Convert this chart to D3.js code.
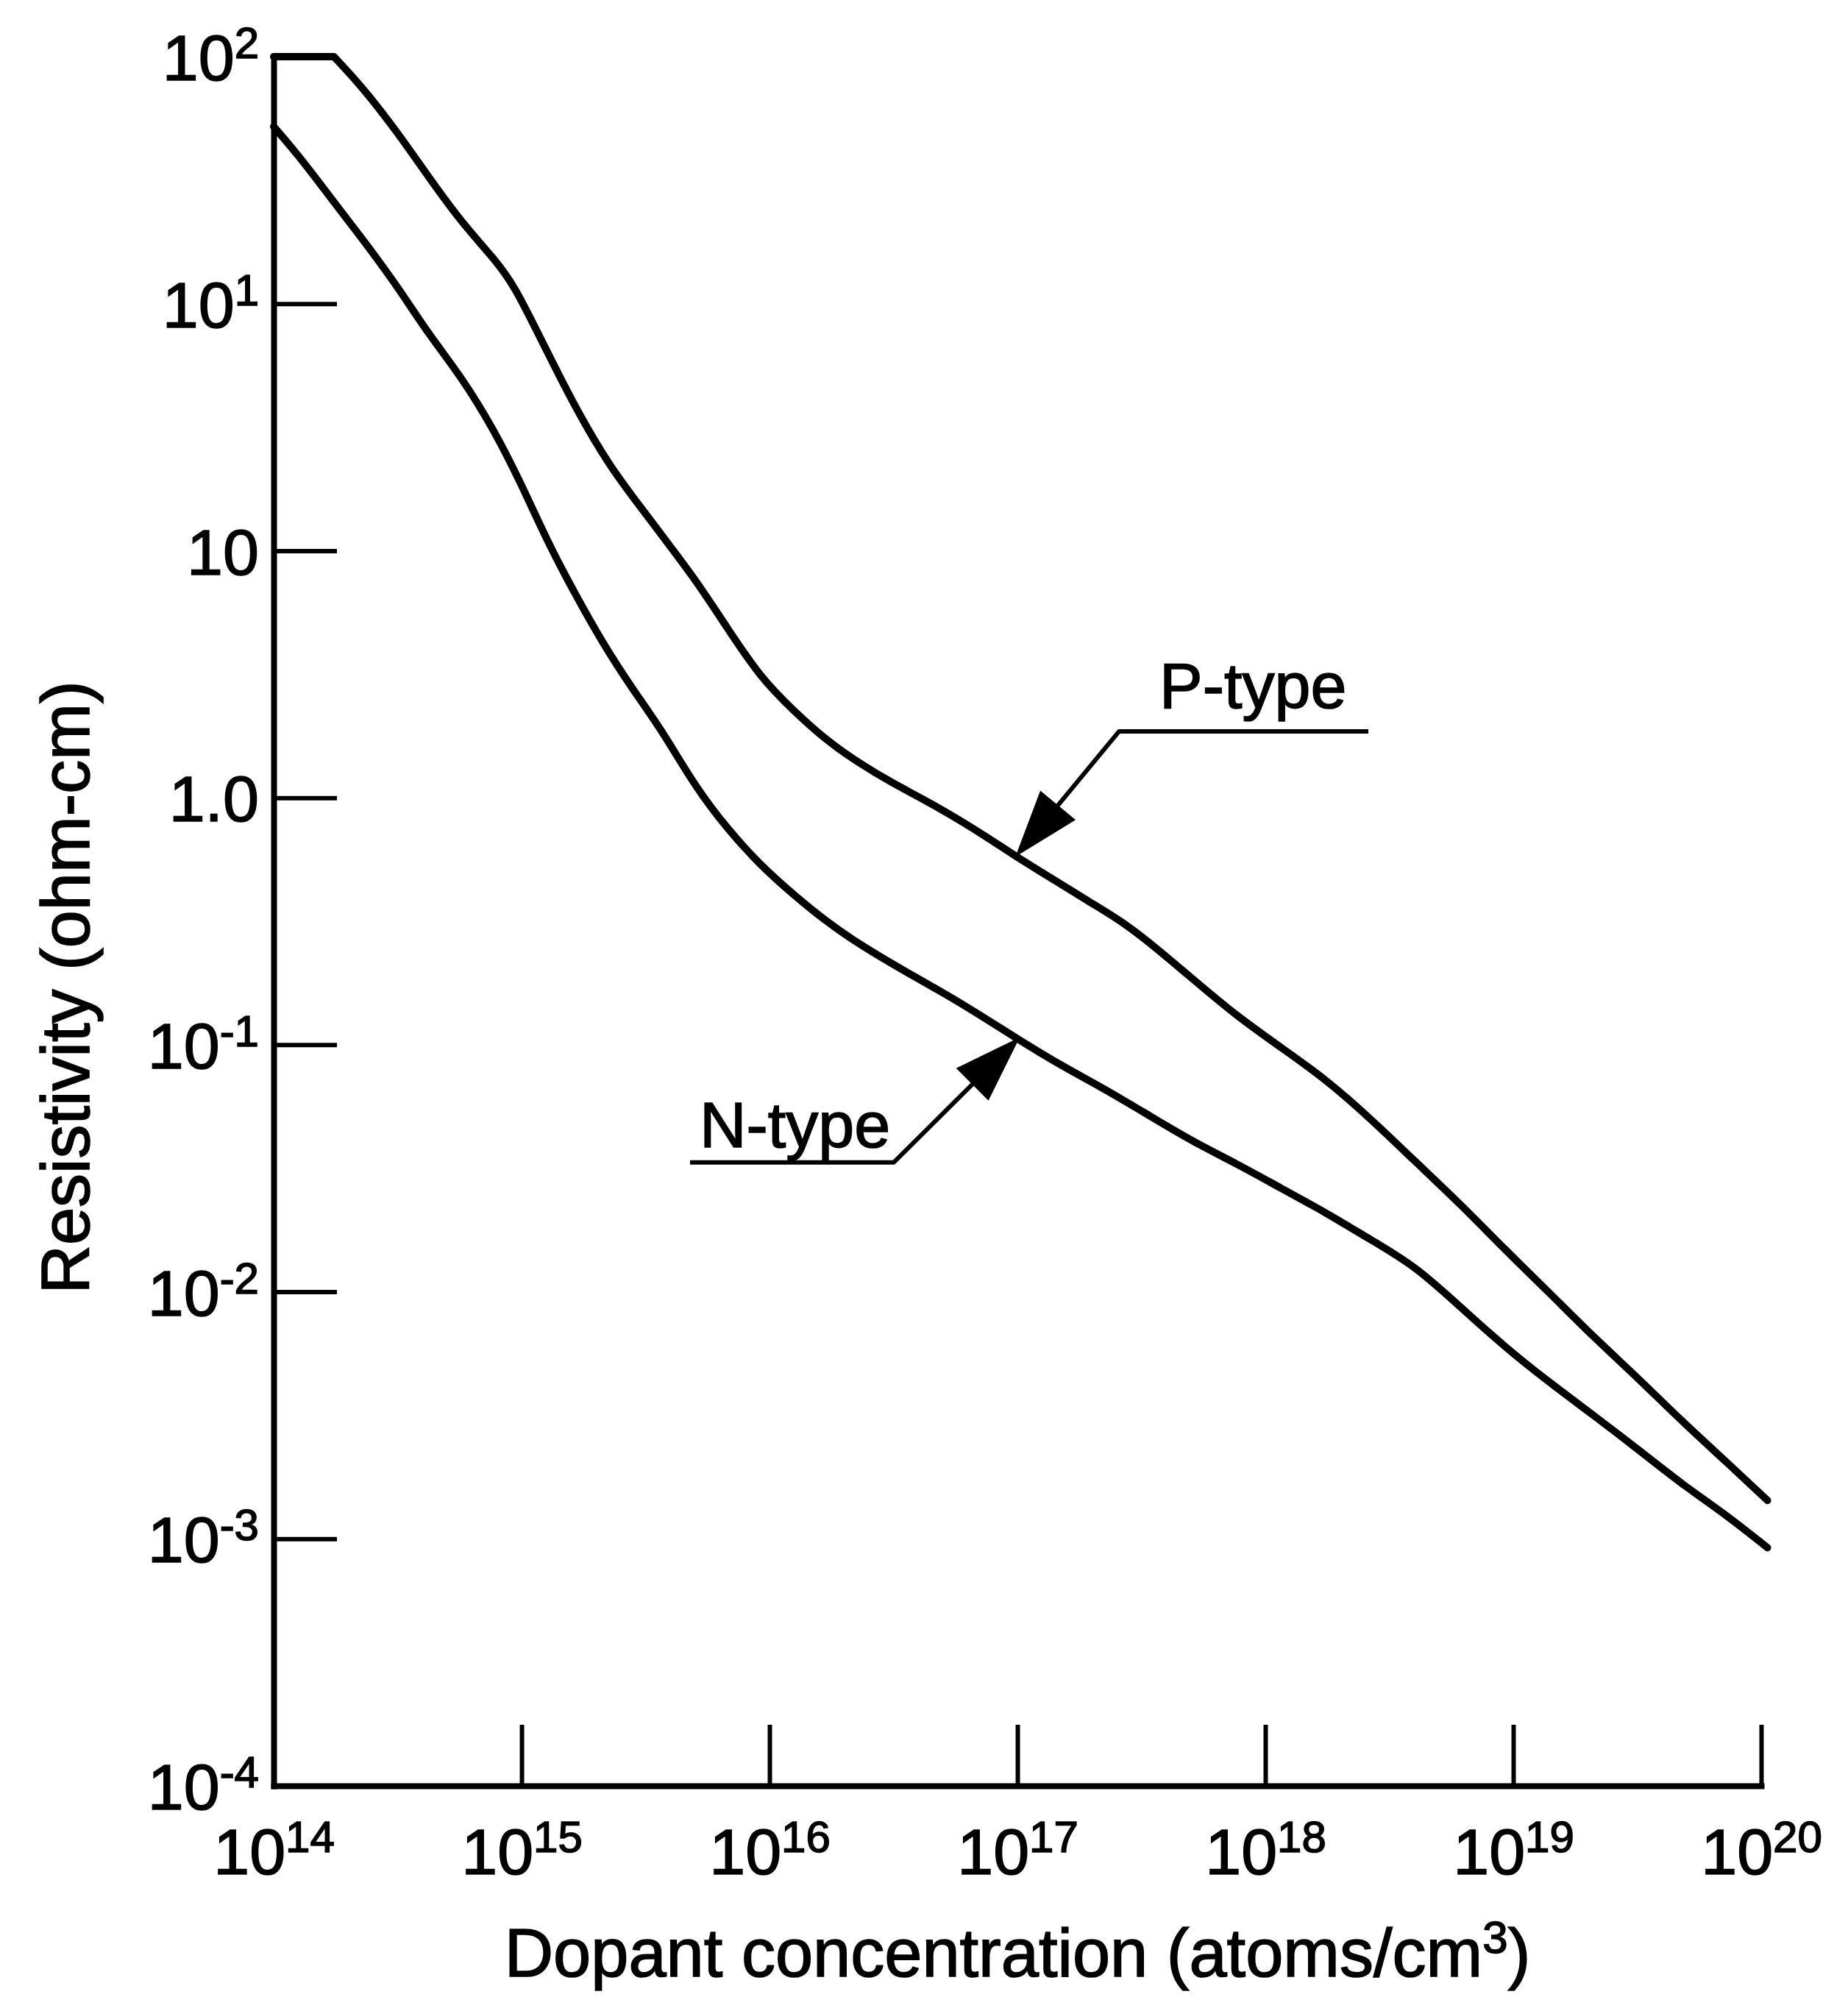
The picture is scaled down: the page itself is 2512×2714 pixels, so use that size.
<!DOCTYPE html>
<html>
<head>
<meta charset="utf-8">
<script src="https://cdn.jsdelivr.net/npm/d3@7"></script>
<style>
body { margin: 0; background: #fff; }
text { font-family: "Liberation Sans", Arial, Helvetica, sans-serif; fill: #000; stroke: #000; stroke-width: 1.6px; }
</style>
</head>
<body>
<svg id="chart"></svg>
<script>
// axis ticks and their printed labels ("^" marks the superscript part)
var xTicks = [1e14, 1e15, 1e16, 1e17, 1e18, 1e19, 1e20]
var xTickLabels = ["10^14", "10^15", "10^16", "10^17", "10^18", "10^19", "10^20"]
var yTicks = [1e-4, 1e-3, 1e-2, 1e-1, 1, 10, 100, 1000]
var yTickLabels = ["10^-4", "10^-3", "10^-2", "10^-1", "1.0", "10", "10^1", "10^2"]

// P-type curve (atoms/cm3, ohm-cm); first two points are the flat top
var pConc = [1e14, 1.75e14, 2.30e14, 3.13e14, 4.23e14, 5.75e14, 7.76e14, 9.33e14, 1.23e15, 1.67e15,
    2.27e15, 3.07e15, 3.92e15, 5.01e15, 6.78e15, 9.20e15, 1.25e16, 1.69e16, 2.30e16, 3.11e16,
    4.23e16, 5.75e16, 7.76e16, 9.66e16, 1.44e17, 1.94e17, 2.64e17, 3.59e17, 5.08e17, 7.71e17,
    1.16e18, 1.76e18, 2.67e18, 4.03e18, 6.11e18, 9.20e18, 1.40e19, 2.12e19, 3.19e19, 4.84e19,
    7.31e19, 1.06e20]
var pRes = [1000, 1000, 745, 500, 324, 212, 152, 119, 67.9, 36.9,
    21.9, 14.7, 10.6, 7.67, 4.84, 3.06, 2.25, 1.71, 1.38, 1.15,
    0.98, 0.82, 0.68, 0.586, 0.458, 0.380, 0.316, 0.249, 0.185, 0.130,
    0.0973, 0.0723, 0.050, 0.0336, 0.0227, 0.0149, 0.0099, 0.00652, 0.00447, 0.00296,
    0.00203, 0.00143]

// N-type curve
var nConc = [1e14, 1.25e14, 1.69e14, 2.30e14, 3.13e14, 4.23e14, 5.75e14, 7.76e14, 9.93e14, 1.27e15,
    1.63e15, 2.13e15, 2.81e15, 3.69e15, 5.01e15, 6.78e15, 9.20e15, 1.25e16, 1.69e16, 2.30e16,
    3.52e16, 5.60e16, 9.79e16, 1.48e17, 2.22e17, 3.37e17, 5.08e17, 7.71e17, 1.16e18, 1.76e18,
    2.67e18, 4.03e18, 6.11e18, 9.20e18, 1.40e19, 2.12e19, 3.19e19, 4.84e19, 7.31e19, 1.06e20]
var nRes = [521, 402, 270, 181, 119, 74.8, 50.2, 30.7, 18.8, 10.9,
    6.78, 4.20, 2.74, 1.87, 1.11, 0.745, 0.532, 0.405, 0.316, 0.255,
    0.198, 0.153, 0.107, 0.0830, 0.0667, 0.0520, 0.0406, 0.0329, 0.0262, 0.0209,
    0.0162, 0.0127, 0.00869, 0.00600, 0.00429, 0.00315, 0.00230, 0.00165, 0.00124, 0.00092]

// callouts: where the arrows touch the curves
var noteLabels = ["P-type", "N-type"]
var noteConc = [1e17, 1e17]
var noteRes = [0.59, 0.105]

function setSup(textSel, label, rise, supSize) {
    var parts = label.split("^")
    textSel.text(null)
    textSel.append("tspan").text(parts[0])
    if (parts.length > 1) {
        textSel.append("tspan")
            .attr("dy", -rise)
            .style("font-size", supSize + "px")
            .text(parts[1])
    }
}

function drawPointer(g, tip, elbow, end) {
    var dx = elbow[0] - tip[0], dy = elbow[1] - tip[1]
    var len = Math.sqrt(dx * dx + dy * dy)
    var ux = dx / len, uy = dy / len
    var base = [tip[0] + ux * 85, tip[1] + uy * 85]
    var px = -uy * 29, py = ux * 29
    g.append("path")
        .attr("d", d3.line()([end, elbow, base]))
        .attr("fill", "none")
        .attr("stroke", "#000")
        .attr("stroke-width", 6)
        .attr("stroke-linejoin", "round")
    g.append("path")
        .attr("d", d3.line()([tip, [base[0] + px, base[1] + py], [base[0] - px, base[1] - py]]) + "Z")
        .attr("fill", "#000")
        .attr("stroke", "#000")
        .attr("stroke-width", 3)
}

function getChart() {
    var width = 2512, height = 2714
    var margin = { top: 77, right: 118, bottom: 287, left: 372 }

    var svg = d3.select("#chart")
        .attr("width", width)
        .attr("height", height)
        .attr("viewBox", [0, 0, width, height])

    svg.append("rect")
        .attr("width", width)
        .attr("height", height)
        .attr("fill", "#fff")

    var xScale = d3.scaleLog()
        .domain([1e14, 1e20])
        .range([margin.left, width - margin.right])
    var yScale = d3.scaleLog()
        .domain([1e-4, 1e3])
        .range([height - margin.bottom, margin.top])

    // y axis, ticks pointing inward
    var yAxis = svg.append("g")
        .attr("transform", "translate(" + margin.left + ",0)")
        .call(d3.axisLeft(yScale).tickValues(yTicks).tickSize(-86).tickSizeOuter(0).tickPadding(20))
    yAxis.attr("font-size", null).attr("font-family", null)
    yAxis.select(".domain").attr("stroke-width", 8).attr("stroke-linecap", "square")
    yAxis.selectAll(".tick line").attr("stroke-width", 6)
    yAxis.selectAll(".tick text")
        .style("font-size", "88px")
        .attr("dy", "0.36em")
        .each(function (d, i) { setSup(d3.select(this), yTickLabels[i], 30, 60) })

    // x axis
    var xAxis = svg.append("g")
        .attr("transform", "translate(0," + (height - margin.bottom) + ")")
        .call(d3.axisBottom(xScale).tickValues(xTicks).tickSize(-83).tickSizeOuter(0).tickPadding(58))
    xAxis.attr("font-size", null).attr("font-family", null)
    xAxis.select(".domain").attr("stroke-width", 8).attr("stroke-linecap", "square")
    xAxis.selectAll(".tick line").attr("stroke-width", 6)
    xAxis.selectAll(".tick text")
        .style("font-size", "88px")
        .each(function (d, i) { setSup(d3.select(this), xTickLabels[i], 30, 60) })

    // curves: smoothed through the read-off points, P-type keeps its sharp corner at the top
    var smooth = d3.line()
        .x(d => xScale(d[0]))
        .y(d => yScale(d[1]))
        .curve(d3.curveBasis)
    var straight = d3.line()
        .x(d => xScale(d[0]))
        .y(d => yScale(d[1]))
    var pPoints = d3.zip(pConc, pRes)
    var nPoints = d3.zip(nConc, nRes)
    var paths = [
        straight(pPoints.slice(0, 2)) + smooth(pPoints.slice(1)),
        smooth(nPoints)
    ]
    svg.selectAll(".curve")
        .data(paths)
        .enter()
        .append("path")
        .attr("class", "curve")
        .attr("d", d => d)
        .attr("fill", "none")
        .attr("stroke", "#000")
        .attr("stroke-width", 10)
        .attr("stroke-linejoin", "round")
        .attr("stroke-linecap", "round")

    // callouts
    var notes = svg.append("g")
    var layout = [
        { elbow: [138, -167], end: [477, -167], text: [193, -199] },
        { elbow: [-168, 167], end: [-445, 167], text: [-432, 146] }
    ]
    noteLabels.forEach((label, i) => {
        var tip = [xScale(noteConc[i]), yScale(noteRes[i])]
        var l = layout[i]
        drawPointer(notes, tip,
            [tip[0] + l.elbow[0], tip[1] + l.elbow[1]],
            [tip[0] + l.end[0], tip[1] + l.end[1]])
        notes.append("text")
            .attr("x", tip[0] + l.text[0])
            .attr("y", tip[1] + l.text[1])
            .style("font-size", "88px")
            .text(label)
    })

    // axis titles
    var xTitle = svg.append("text")
        .attr("x", xScale(1e17))
        .attr("y", 2686)
        .attr("text-anchor", "middle")
        .style("font-size", "92px")
    xTitle.append("tspan").text("Dopant concentration (atoms/cm")
    xTitle.append("tspan").attr("dy", -32).style("font-size", "62px").text("3")
    xTitle.append("tspan").attr("dy", 32).text(")")

    svg.append("text")
        .attr("transform", "translate(121," + 1342 + ") rotate(-90)")
        .attr("text-anchor", "middle")
        .style("font-size", "92px")
        .text("Resistivity (ohm-cm)")
}
getChart();
</script>
</body>
</html>
